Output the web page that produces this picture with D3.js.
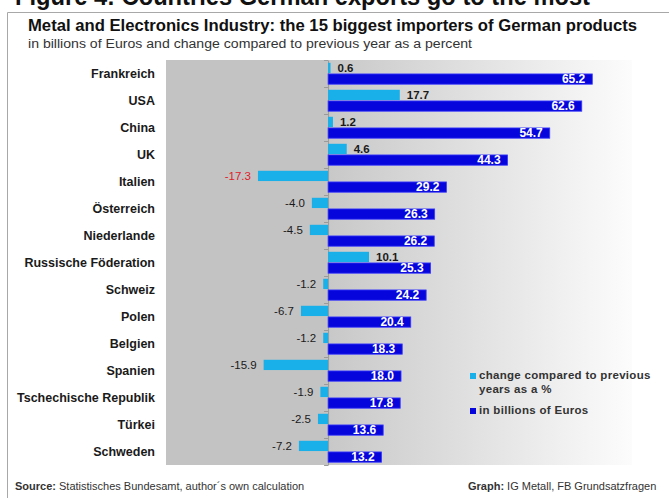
<!DOCTYPE html>
<html>
<head>
<meta charset="utf-8">
<script src="https://cdn.jsdelivr.net/npm/d3@7/dist/d3.min.js"></script>
<style>
  html, body { margin: 0; padding: 0; background: #ffffff; }
  svg { display: block; font-family: "Liberation Sans", Arial, Helvetica, sans-serif; }
</style>
</head>
<body>
<svg id="chart" width="669" height="498"></svg>
<script>
// Importing countries, largest first
const countries = [
  "Frankreich", "USA", "China", "UK", "Italien", "Österreich", "Niederlande",
  "Russische Föderation", "Schweiz", "Polen", "Belgien", "Spanien",
  "Tschechische Republik", "Türkei", "Schweden"
];
// Imports in billions of Euros
const billions = [65.2, 62.6, 54.7, 44.3, 29.2, 26.3, 26.2, 25.3, 24.2, 20.4, 18.3, 18.0, 17.8, 13.6, 13.2];
// Change compared to previous year, percent
const changePct = [0.6, 17.7, 1.2, 4.6, -17.3, -4.0, -4.5, 10.1, -1.2, -6.7, -1.2, -15.9, -1.9, -2.5, -7.2];
// Shared value axis range
const xDomain = [-40, 75];
const seriesKeys = ["change", "billions"];
const legendLabels = [["change compared to previous", "years as a %"], ["in billions of Euros"]];

const rows = countries.map((c, i) => ({ country: c, billions: billions[i], change: changePct[i] }));

// One decimal, plain hyphen for negatives
const fmt = d3.formatLocale({ decimal: ".", thousands: ",", grouping: [3], currency: ["", ""], minus: "-" }).format(".1f");

const svg = d3.select("#chart");
const plot = { left: 166, right: 632, top: 60, bottom: 465 };

const x = d3.scaleLinear().domain(xDomain).range([plot.left, plot.right]);
const y = d3.scaleBand().domain(countries).range([plot.top, plot.bottom]).paddingInner(0).paddingOuter(0);
const ySub = d3.scaleBand().domain(seriesKeys).range([0, y.bandwidth()]).paddingInner(0.08).paddingOuter(0.25);

const colorChange = "#19b0ea";
const colorBillions = "#0606dc";

// Heading running above the frame (cut by the page top)
svg.append("text")
  .attr("x", 15).attr("y", 5)
  .attr("font-size", 26).attr("font-weight", "bold").attr("fill", "#111")
  .attr("textLength", 575).attr("lengthAdjust", "spacingAndGlyphs")
  .text("Figure 4: Countries German exports go to the most");

// Frame
svg.append("path")
  .attr("d", "M7.5,498 L7.5,12.5 L669,12.5")
  .attr("fill", "none").attr("stroke", "#a8a8a8").attr("stroke-width", 1);

// Titles
svg.append("text")
  .attr("x", 28).attr("y", 31)
  .attr("font-size", 16).attr("font-weight", "bold").attr("fill", "#111")
  .attr("textLength", 609).attr("lengthAdjust", "spacingAndGlyphs")
  .text("Metal and Electronics Industry: the 15 biggest importers of German products");
svg.append("text")
  .attr("x", 28).attr("y", 48)
  .attr("font-size", 12.5).attr("fill", "#333")
  .attr("textLength", 444).attr("lengthAdjust", "spacingAndGlyphs")
  .text("in billions of Euros and change compared to previous year as a percent");

// Plot background: flat grey on the negative side, fading to white on the positive side
const defs = svg.append("defs");
const grad = defs.append("linearGradient").attr("id", "bgFade").attr("x1", "0").attr("x2", "1").attr("y1", "0").attr("y2", "0");
grad.append("stop").attr("offset", "0%").attr("stop-color", "#c8c8c8");
grad.append("stop").attr("offset", "100%").attr("stop-color", "#fcfcfc");

svg.append("rect")
  .attr("x", x(xDomain[0])).attr("y", plot.top)
  .attr("width", x(0) - x(xDomain[0])).attr("height", plot.bottom - plot.top)
  .attr("fill", "#c3c3c3");
svg.append("rect")
  .attr("x", x(0)).attr("y", plot.top)
  .attr("width", x(xDomain[1]) - x(0)).attr("height", plot.bottom - plot.top)
  .attr("fill", "url(#bgFade)");

// Category axis at zero with ticks between rows
const yAxis = d3.axisLeft(y).tickSize(0).tickFormat("");
const axisG = svg.append("g").attr("transform", `translate(${x(0)},0)`).call(yAxis);
axisG.select(".domain").attr("stroke", "#9a9a9a");
const boundaries = countries.map(c => y(c)).concat([plot.bottom]);
axisG.selectAll(".sep").data(boundaries).join("line")
  .attr("class", "sep")
  .attr("x1", -4).attr("x2", 0)
  .attr("y1", d => Math.round(d) + 0.5).attr("y2", d => Math.round(d) + 0.5)
  .attr("stroke", "#9a9a9a");

// Country labels
svg.append("g").selectAll("text").data(rows).join("text")
  .attr("x", 155)
  .attr("y", d => y(d.country) + y.bandwidth() / 2 + 4.5)
  .attr("text-anchor", "end")
  .attr("font-size", 12.5).attr("font-weight", "bold").attr("fill", "#1a1a1a")
  .text(d => d.country);

// Change bars
svg.append("g").selectAll("rect").data(rows).join("rect")
  .attr("x", d => x(Math.min(0, d.change)))
  .attr("y", d => y(d.country) + ySub("change"))
  .attr("width", d => Math.abs(x(d.change) - x(0)))
  .attr("height", ySub.bandwidth())
  .attr("fill", colorChange);

// Billions bars
svg.append("g").selectAll("rect").data(rows).join("rect")
  .attr("x", x(0))
  .attr("y", d => y(d.country) + ySub("billions"))
  .attr("width", d => x(d.billions) - x(0))
  .attr("height", ySub.bandwidth())
  .attr("fill", colorBillions)
  .attr("stroke", "#3a3aff").attr("stroke-width", 0.8);

// Change labels beside bars
svg.append("g").selectAll("text").data(rows).join("text")
  .attr("x", d => d.change >= 0 ? x(d.change) + 7 : x(d.change) - 7)
  .attr("y", d => y(d.country) + ySub("change") + ySub.bandwidth() / 2 + 4)
  .attr("text-anchor", d => d.change >= 0 ? "start" : "end")
  .attr("font-size", 11.5)
  .attr("font-weight", d => d.change >= 0 ? "bold" : "normal")
  .attr("fill", d => d.change <= -17 ? "#e0202a" : "#1a1a1a")
  .text(d => fmt(d.change));

// Billions labels inside bar ends
svg.append("g").selectAll("text").data(rows).join("text")
  .attr("x", d => x(d.billions) - 7)
  .attr("y", d => y(d.country) + ySub("billions") + ySub.bandwidth() / 2 + 4.3)
  .attr("text-anchor", "end")
  .attr("font-size", 12).attr("font-weight", "bold").attr("fill", "#ffffff")
  .text(d => fmt(d.billions));

// Legend
const legend = svg.append("g").attr("transform", "translate(470,0)");
const legendColors = [colorChange, colorBillions];
const legendSquareY = [373, 408];
legendLabels.forEach((lines, i) => {
  legend.append("rect")
    .attr("x", 0).attr("y", legendSquareY[i])
    .attr("width", 6).attr("height", 6)
    .attr("fill", legendColors[i]);
  lines.forEach((line, j) => {
    legend.append("text")
      .attr("x", 9).attr("y", legendSquareY[i] + 6 + j * 13.5)
      .attr("font-size", 11.5).attr("font-weight", "bold").attr("fill", "#333")
      .attr("letter-spacing", 0.3)
      .text(line);
  });
});

// Footer notes
const src = svg.append("text").attr("x", 15).attr("y", 490).attr("font-size", 11).attr("fill", "#333");
src.append("tspan").attr("font-weight", "bold").text("Source:");
src.append("tspan").text(" Statistisches Bundesamt, author\u00b4s own calculation");
const gr = svg.append("text").attr("x", 468).attr("y", 490).attr("font-size", 11).attr("fill", "#333");
gr.append("tspan").attr("font-weight", "bold").text("Graph:");
gr.append("tspan").text("  IG Metall, FB Grundsatzfragen");
</script>
</body>
</html>
